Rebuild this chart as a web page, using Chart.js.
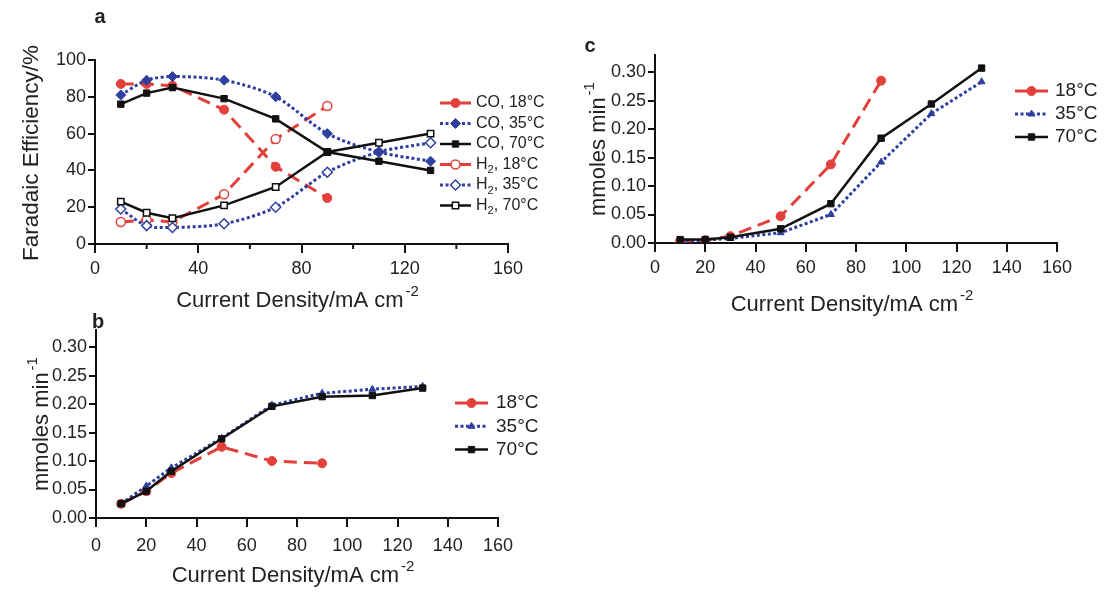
<!DOCTYPE html>
<html>
<head>
<meta charset="utf-8">
<script src="https://cdn.jsdelivr.net/npm/chart.js@4.4.1/dist/chart.umd.min.js"></script>
<style>
html, body { margin: 0; padding: 0; background: #fff; }
#marco { position: relative; width: 1106px; height: 592px; overflow: hidden; }
canvas { position: absolute; }
</style>
</head>
<body>
<div id="marco">
  <canvas id="cA" width="580" height="320" style="left:0;top:0"></canvas>
  <canvas id="cB" width="580" height="292" style="left:0;top:300px"></canvas>
  <canvas id="cC" width="546" height="330" style="left:560px;top:0"></canvas>
</div>
<script>
// Densidad de corriente (mA cm-2)
const densidad = [10, 20, 30, 50, 70, 90, 110, 130];
const densidad18 = [10, 20, 30, 50, 70, 90];

// Panel a: eficiencia faradaica (%)
const co18 = [87, 87, 86, 73, 42, 25];
const co35 = [81, 89, 91, 89, 80, 60, 50, 45];
const co70 = [76, 82, 85, 79, 68, 50, 45, 40];
const h2_18 = [12, 13, 12, 27, 57, 75];
const h2_35 = [19, 10, 9, 11, 20, 39, 50, 55];
const h2_70 = [23, 17, 14, 21, 31, 50, 55, 60];

// Panel b: mmoles min-1
const b18 = [0.025, 0.047, 0.079, 0.125, 0.100, 0.096];
const b35 = [0.025, 0.056, 0.088, 0.140, 0.198, 0.219, 0.226, 0.231];
const b70 = [0.025, 0.047, 0.082, 0.139, 0.196, 0.213, 0.215, 0.228];

// Panel c: mmoles min-1
const c18 = [0.003, 0.005, 0.012, 0.047, 0.138, 0.285];
const c35 = [0.003, 0.005, 0.008, 0.018, 0.050, 0.142, 0.227, 0.283];
const c70 = [0.006, 0.006, 0.010, 0.025, 0.069, 0.184, 0.244, 0.307];

// Etiquetas de los ejes
const ticksX = [0, 20, 40, 60, 80, 100, 120, 140, 160];
const ticksXA = [0, 40, 80, 120, 160];
const menoresXA = [20, 60, 100, 140];
const ticksEf = [0, 20, 40, 60, 80, 100];
const ticksMol = [0, 0.05, 0.10, 0.15, 0.20, 0.25, 0.30];

const FUENTE = '"Liberation Sans", Arial, sans-serif';
const TEXTO = '#222';
const ROJO = '#e2403a', AZUL = '#2f3f9f', NEGRO = '#111';

const estilos = {
    rojo: { color: ROJO, dash: [13, 7], ancho: 3 },
    azul: { color: AZUL, dash: [3, 2.5], ancho: 3 },
    negro: { color: NEGRO, dash: [], ancho: 2.5 }
};

function serie(label, xs, ys, est, punto, hueco, radio, orden, tension) {
    return {
        label: label,
        data: xs.map((x, i) => ({ x: x, y: ys[i] })),
        borderColor: est.color,
        borderWidth: est.ancho,
        borderDash: est.dash,
        pointStyle: punto,
        pointRadius: radio,
        pointBackgroundColor: hueco ? '#fff' : est.color,
        pointBorderColor: est.color,
        pointBorderWidth: hueco ? 1.5 : 1,
        order: orden,
        tension: tension || 0,
        fill: false
    };
}

// Texto con superindice (p.ej. cm-2)
function textoSup(ctx, base, sup, x, y, size) {
    ctx.textAlign = 'left';
    ctx.textBaseline = 'alphabetic';
    ctx.font = size + 'px ' + FUENTE;
    const w1 = ctx.measureText(base).width;
    const chico = Math.round(size * 0.68) + 'px ' + FUENTE;
    ctx.font = chico;
    const w2 = ctx.measureText(sup).width;
    const x0 = x - (w1 + 2 + w2) / 2;
    ctx.font = size + 'px ' + FUENTE;
    ctx.fillText(base, x0, y);
    ctx.font = chico;
    ctx.fillText(sup, x0 + w1 + 2, y - size * 0.5);
}

// Texto con subindice para H₂
function textoSub(ctx, label, x, y, size) {
    ctx.textAlign = 'left';
    ctx.textBaseline = 'middle';
    const partes = label.split('₂');
    let cx = x;
    partes.forEach((p, i) => {
        ctx.font = size + 'px ' + FUENTE;
        ctx.fillText(p, cx, y);
        cx += ctx.measureText(p).width;
        if (i < partes.length - 1) {
            ctx.font = Math.round(size * 0.7) + 'px ' + FUENTE;
            ctx.fillText('2', cx, y + size * 0.35);
            cx += ctx.measureText('2').width;
        }
    });
}

const decoracion = {
    id: 'decoracion',
    afterDraw(chart, args, o) {
        const ctx = chart.ctx;
        const area = chart.chartArea;
        ctx.save();
        ctx.fillStyle = TEXTO;

        // letra del panel
        ctx.font = 'bold 20px ' + FUENTE;
        ctx.textAlign = 'center';
        ctx.textBaseline = 'middle';
        ctx.fillText(o.letra, o.letraX, o.letraY);

        // titulo eje x
        textoSup(ctx, 'Current Density/mA cm', '-2', (area.left + area.right) / 2 + o.dxTitulo, o.yTituloX, 22);

        // titulo eje y
        ctx.save();
        ctx.translate(o.xTituloY, (area.top + area.bottom) / 2);
        ctx.rotate(-Math.PI / 2);
        textoSup(ctx, o.tituloY, o.supY, 0, 8, o.tamTituloY || 22);
        ctx.restore();

        // marcas menores
        if (o.menores) {
            const sx = chart.scales.x;
            ctx.strokeStyle = NEGRO;
            ctx.lineWidth = 2;
            o.menores.forEach(v => {
                const px = sx.getPixelForValue(v);
                ctx.beginPath();
                ctx.moveTo(px, area.bottom);
                ctx.lineTo(px, area.bottom + 5);
                ctx.stroke();
            });
        }

        // leyenda
        const L = o.leyenda;
        chart.data.datasets.forEach((ds, i) => {
            const y = L.y0 + i * L.dy;
            ctx.save();
            ctx.strokeStyle = ds.borderColor;
            ctx.lineWidth = ds.borderWidth;
            ctx.setLineDash(ds.borderDash);
            ctx.beginPath();
            ctx.moveTo(L.x0, y);
            ctx.lineTo(L.x1, y);
            ctx.stroke();
            ctx.setLineDash([]);
            ctx.fillStyle = ds.pointBackgroundColor;
            ctx.strokeStyle = ds.pointBorderColor;
            ctx.lineWidth = ds.pointBorderWidth;
            Chart.helpers.drawPoint(ctx, {
                pointStyle: ds.pointStyle, radius: ds.pointRadius,
                rotation: 0, borderWidth: ds.pointBorderWidth
            }, (L.x0 + L.x1) / 2, y);
            ctx.restore();
            ctx.fillStyle = TEXTO;
            textoSub(ctx, ds.label, L.xt, y, L.size);
        });
        ctx.restore();
    }
};

function ejeX(ticks, alto, pad) {
    return {
        type: 'linear', min: 0, max: 160,
        afterBuildTicks: s => { s.ticks = ticks.map(v => ({ value: v })); },
        afterFit: s => { s.height = alto; },
        ticks: { font: { family: FUENTE, size: 18 }, color: TEXTO, padding: pad, maxRotation: 0, autoSkip: false },
        grid: { drawOnChartArea: false, drawTicks: true, tickLength: 9, color: NEGRO, lineWidth: 2 },
        border: { color: NEGRO, width: 2 }
    };
}

function ejeY(max, ticks, ancho, fmt) {
    return {
        type: 'linear', min: 0, max: max,
        afterBuildTicks: s => { s.ticks = ticks.map(v => ({ value: v })); },
        afterFit: s => { s.width = ancho; },
        ticks: { font: { family: FUENTE, size: 18 }, color: TEXTO, padding: 2, autoSkip: false, callback: fmt },
        grid: { drawOnChartArea: false, drawTicks: true, tickLength: 7, color: NEGRO, lineWidth: 2 },
        border: { color: NEGRO, width: 2 }
    };
}

function opcionesBase(padding, x, y, deco) {
    return {
        responsive: false,
        animation: false,
        devicePixelRatio: 1,
        events: [],
        layout: { padding: padding },
        scales: { x: x, y: y },
        plugins: { legend: { display: false }, tooltip: { enabled: false }, decoracion: deco }
    };
}

const dosDec = v => v.toFixed(2);

// Panel a
new Chart(document.getElementById('cA'), {
    type: 'line',
    data: {
        datasets: [
            serie('CO, 18°C', densidad18, co18, estilos.rojo, 'circle', false, 4.5, 2),
            serie('CO, 35°C', densidad, co35, estilos.azul, 'rectRot', false, 5, 1, 0.3),
            serie('CO, 70°C', densidad, co70, estilos.negro, 'rect', false, 4.5, 0),
            serie('H₂, 18°C', densidad18, h2_18, estilos.rojo, 'circle', true, 4.5, 2),
            serie('H₂, 35°C', densidad, h2_35, estilos.azul, 'rectRot', true, 5, 1, 0.3),
            serie('H₂, 70°C', densidad, h2_70, estilos.negro, 'rect', true, 4.5, 0)
        ]
    },
    options: opcionesBase({ top: 60, right: 72, left: 0, bottom: 0 },
        ejeX(ticksXA, 76, 5), ejeY(100, ticksEf, 95, v => v),
        {
            letra: 'a', letraX: 100, letraY: 17,
            dxTitulo: -4, yTituloX: 307,
            xTituloY: 30, tituloY: 'Faradaic Efficiency/%', supY: '', tamTituloY: 22.5,
            menores: menoresXA,
            leyenda: { x0: 440, x1: 471, xt: 476, y0: 103, dy: 20.5, size: 16 }
        }),
    plugins: [decoracion]
});

// Panel b
new Chart(document.getElementById('cB'), {
    type: 'line',
    data: {
        datasets: [
            serie('18°C', densidad18, b18, estilos.rojo, 'circle', false, 4.5, 2),
            serie('35°C', densidad, b35, estilos.azul, 'triangle', false, 4, 1),
            serie('70°C', densidad, b70, estilos.negro, 'rect', false, 4.5, 0)
        ]
    },
    options: opcionesBase({ top: 30, right: 82, left: 0, bottom: 0 },
        ejeX(ticksX, 74, 8), ejeY(0.33, ticksMol, 96, dosDec),
        {
            letra: 'b', letraX: 98, letraY: 22,
            dxTitulo: -4, yTituloX: 282,
            xTituloY: 40, tituloY: 'mmoles min', supY: '-1',
            leyenda: { x0: 455, x1: 488, xt: 496, y0: 103, dy: 23.3, size: 19 }
        }),
    plugins: [decoracion]
});

// Panel c
new Chart(document.getElementById('cC'), {
    type: 'line',
    data: {
        datasets: [
            serie('18°C', densidad18, c18, estilos.rojo, 'circle', false, 4.5, 2),
            serie('35°C', densidad, c35, estilos.azul, 'triangle', false, 4, 1),
            serie('70°C', densidad, c70, estilos.negro, 'rect', false, 4.5, 0)
        ]
    },
    options: opcionesBase({ top: 55, right: 49, left: 0, bottom: 0 },
        ejeX(ticksX, 87, 5.5), ejeY(0.33, ticksMol, 95, dosDec),
        {
            letra: 'c', letraX: 30, letraY: 46,
            dxTitulo: -4, yTituloX: 311,
            xTituloY: 37, tituloY: 'mmoles min', supY: '-1',
            leyenda: { x0: 455, x1: 488, xt: 495, y0: 91, dy: 23, size: 19 }
        }),
    plugins: [decoracion]
});
</script>
</body>
</html>
